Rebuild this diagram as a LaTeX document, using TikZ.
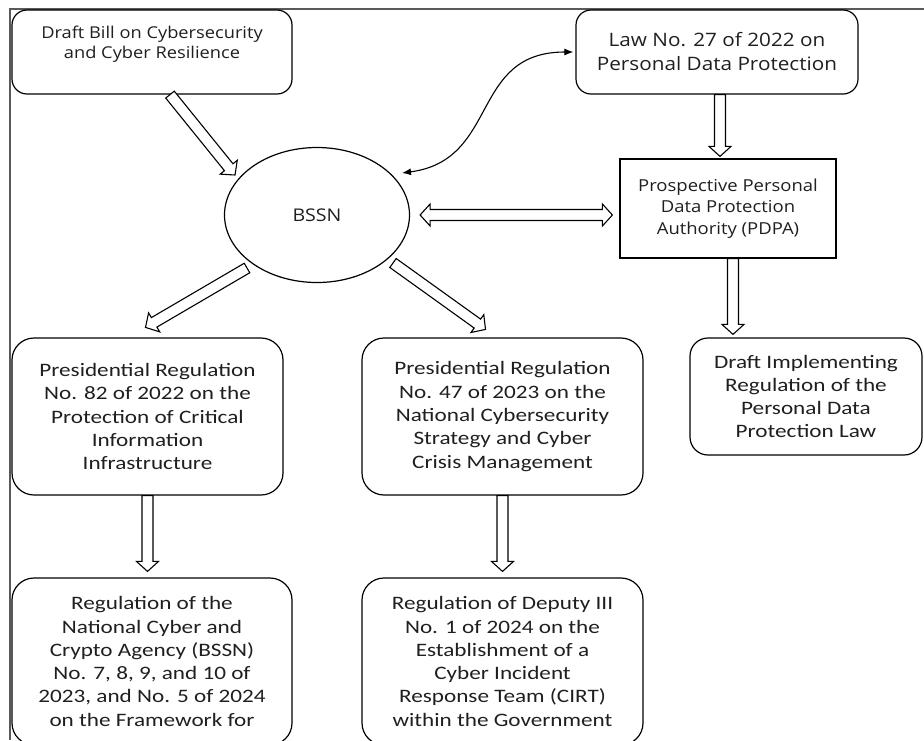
\documentclass[tikz,border=0pt]{standalone}
\usepackage{fontspec}
\setmainfont{Carlito}[FakeStretch=1.22]
\newfontfamily\headfont{Open Sans}[FakeStretch=1.12]
\usetikzlibrary{arrows.meta, calc, positioning, shapes.geometric}

% sizes of the hollow block arrows
\def\shaftw{5.5pt}
\def\headw{11pt}
\def\headlen{10pt}

% hollow block arrow from #1 to #2
\newcommand{\blockto}[2]{%
  \coordinate (ba) at #1; \coordinate (bb) at #2;
  \coordinate (bc) at ($(bb)!\headlen!(ba)$);
  \draw[blockline] ($(ba)!\shaftw!90:(bb)$) -- ($(bc)!\shaftw!90:(bb)$)
    -- ($(bc)!\headw!90:(bb)$) -- (bb) -- ($(bc)!\headw!-90:(bb)$)
    -- ($(bc)!\shaftw!-90:(bb)$) -- ($(ba)!\shaftw!-90:(bb)$) -- cycle;}

% hollow block arrow with a head at both ends
\newcommand{\blockboth}[2]{%
  \coordinate (ba) at #1; \coordinate (bb) at #2;
  \coordinate (bc) at ($(bb)!\headlen!(ba)$);
  \coordinate (bd) at ($(ba)!\headlen!(bb)$);
  \draw[blockline] (ba) -- ($(bd)!\headw!90:(bb)$) -- ($(bd)!\shaftw!90:(bb)$)
    -- ($(bc)!\shaftw!90:(bb)$) -- ($(bc)!\headw!90:(bb)$) -- (bb)
    -- ($(bc)!\headw!-90:(bb)$) -- ($(bc)!\shaftw!-90:(bb)$)
    -- ($(bd)!\shaftw!-90:(bb)$) -- ($(bd)!\headw!-90:(bb)$) -- cycle;}

\tikzset{
  box/.style={draw, line width=1.2pt, rounded corners=18pt, align=center, inner sep=0pt, text=black!88},
  sqbox/.style={draw, line width=1.2pt, align=center, inner sep=0pt, text=black!88},
  body/.style={font=\fontsize{19}{23.3}\selectfont},
  blockline/.style={draw, line width=1.1pt, fill=white, line join=miter},
  link/.style={line width=1.1pt, {Latex[length=9pt,width=7pt]}-{Latex[length=9pt,width=7pt]}}
}

\begin{document}
\begin{tikzpicture}[x=1pt, y=-1pt]
\useasboundingbox (0,0) rectangle (924,740);
\draw[black!65, line width=1.4pt] (924,9) -- (10,9) -- (10,740);

\node[box, rounded corners=15pt, minimum width=280pt, minimum height=84pt,
  font=\headfont\fontsize{16.3}{20}\selectfont] (bill) at (152,52)
  {Draft Bill on Cybersecurity\\and Cyber Resilience\\\mbox{}};
\node[box, rounded corners=15pt, minimum width=282pt, minimum height=84pt,
  font=\headfont\fontsize{18.5}{24}\selectfont] (law) at (717,52)
  {Law No. 27 of 2022 on\\Personal Data Protection};
\node[draw, ellipse, line width=1.2pt, minimum width=185pt, minimum height=135pt,
  inner sep=0pt, text=black!88, font=\headfont\fontsize{17.5}{20}\selectfont] (bssn) at (317,215) {BSSN};
\node[sqbox, minimum width=216pt, minimum height=99pt,
  font=\headfont\fontsize{16.5}{21.5}\selectfont] (pdpa) at (728,208.5)
  {Prospective Personal\\Data Protection\\Authority (PDPA)};
\node[box, body, minimum width=232pt, minimum height=117pt] (dimpl) at (806,396.5)
  {Draft Implementing\\Regulation of the\\Personal Data\\Protection Law};
\node[box, body, rounded corners=22pt, minimum width=271pt, minimum height=157pt] (pres82) at (147.5,416.5)
  {Presidential Regulation\\No. 82 of 2022 on the\\Protection of Critical\\Information\\Infrastructure};
\node[box, body, rounded corners=22pt, minimum width=281pt, minimum height=157pt] (pres47) at (502.5,416.5)
  {Presidential Regulation\\No. 47 of 2023 on the\\National Cybersecurity\\Strategy and Cyber\\Crisis Management};
\node[box, body, rounded corners=22pt, minimum width=280pt, minimum height=167pt] (regbssn) at (152,661.5)
  {Regulation of the\\National Cyber and\\Crypto Agency (BSSN)\\No. 7, 8, 9, and 10 of\\2023, and No. 5 of 2024\\on the Framework for};
\node[box, body, rounded corners=22pt, minimum width=281pt, minimum height=167pt] (regdep) at (502.5,661.5)
  {Regulation of Deputy III\\No. 1 of 2024 on the\\Establishment of a\\Cyber Incident\\Response Team (CIRT)\\within the Government};

% block arrows
\blockto{([xshift=18pt]bill.south)}{($(bssn)+(-82,-40)$)}
\blockto{($(bssn)+(-70,53)$)}{($(pres82.north)+(-2,-10)$)}
\blockto{($(bssn)+(76,48)$)}{($(pres47.north)+(-17,-8)$)}
\blockboth{($(bssn.east)+(10,0)$)}{($(bssn.east -| pdpa.west)+(-7,0)$)}
\blockto{([xshift=3pt]law.south)}{($(law.south |- pdpa.north)+(3,-2)$)}
\blockto{([xshift=5pt]pdpa.south)}{($(pdpa.south |- dimpl.north)+(5,-3)$)}
\blockto{(pres82.south)}{($(pres82.south |- regbssn.north)+(0,-6)$)}
\blockto{(pres47.south)}{($(pres47.south |- regdep.north)+(0,-6)$)}

\draw[link] ($(bssn)+(85,-42)$) .. controls +(98,-13) and +(-104,0) .. ([xshift=-2pt]law.west);
\end{tikzpicture}
\end{document}
